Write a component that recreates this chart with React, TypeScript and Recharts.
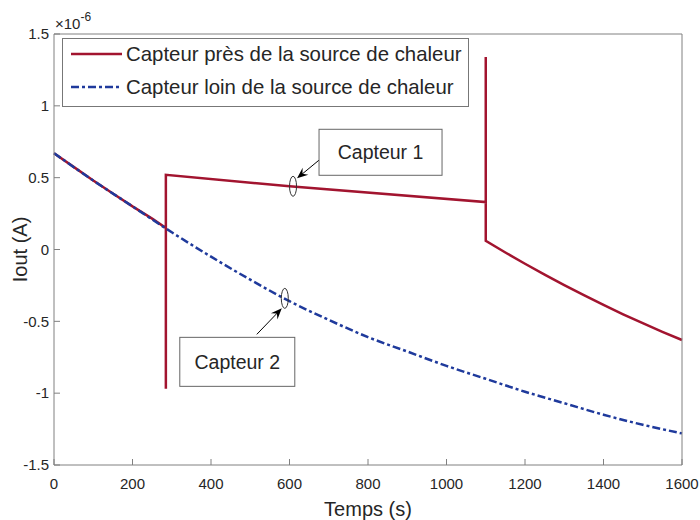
import React from 'react';
import { LineChart, Line, XAxis, YAxis, ReferenceDot, Legend } from 'recharts';

// courant en µA (l'axe porte le facteur ×10^-6)
const timeFar = [0, 100, 200, 300, 400, 500, 600, 700, 800, 900, 1000, 1100, 1200, 1300, 1400, 1500, 1600];
const currentFar = [0.67, 0.48, 0.3, 0.12, -0.05, -0.21, -0.36, -0.49, -0.61, -0.71, -0.81, -0.9, -0.99, -1.07, -1.15, -1.22, -1.28];

const timeNear = [
  0, 50, 100, 150, 200, 250, 285, 285, 285, 600, 1100, 1100, 1100,
  1150, 1200, 1250, 1300, 1350, 1400, 1450, 1500, 1550, 1600,
];
const currentNear = [
  0.67, 0.575, 0.48, 0.39, 0.3, 0.215, 0.15, -0.97, 0.52, 0.44, 0.33, 1.34, 0.06,
  -0.021, -0.099, -0.175, -0.248, -0.318, -0.386, -0.451, -0.513, -0.573, -0.63,
];

const xTicks = [0, 200, 400, 600, 800, 1000, 1200, 1400, 1600];
const yTicks = [-1.5, -1, -0.5, 0, 0.5, 1, 1.5];

const seriesNames = ['Capteur près de la source de chaleur', 'Capteur loin de la source de chaleur'];
const seriesColors = ['#A2142F', '#1F3A9C'];

const calloutLabels = ['Capteur 1', 'Capteur 2'];
const calloutTimes = [609, 588];
const calloutValues = [0.44, -0.34];

const FONT = '"Liberation Sans", Arial, Helvetica, sans-serif';
const AXIS = '#808080';
const TEXT = '#262626';
const DASH = '8 3 3 3';

const nearData = timeNear.map((t, i) => ({ t, v: currentNear[i] }));
const farData = timeFar.map((t, i) => ({ t, v: currentFar[i] }));

// placement of each callout relative to its ellipse
const calloutLayout = [
  { tail: [27, -27], head: [4, -8], box: [26, -57, 123, 46] },
  { tail: [-28, 36], head: [-3, 10], box: [-105, 39, 115, 49] },
];

const Arrow = ({ x1, y1, x2, y2 }: { x1: number; y1: number; x2: number; y2: number }) => {
  const dx = x2 - x1;
  const dy = y2 - y1;
  const len = Math.sqrt(dx * dx + dy * dy);
  const ux = dx / len;
  const uy = dy / len;
  const bx = x2 - ux * 11;
  const by = y2 - uy * 11;
  const pts = `${x2},${y2} ${bx - uy * 4.5},${by + ux * 4.5} ${x2 - ux * 7},${y2 - uy * 7} ${bx + uy * 4.5},${by - ux * 4.5}`;
  return (
    <g>
      <line x1={x1} y1={y1} x2={x2 - ux * 6} y2={y2 - uy * 6} stroke="#000" strokeWidth={1} />
      <polygon points={pts} fill="#000" />
    </g>
  );
};

const makeCallout = (idx: number) => (props: any) => {
  const { cx, cy } = props;
  const lay = calloutLayout[idx];
  const [bx, by, bw, bh] = lay.box;
  return (
    <g>
      <ellipse cx={cx} cy={cy} rx={3.5} ry={10} fill="none" stroke="#333" strokeWidth={1} />
      <Arrow x1={cx + lay.tail[0]} y1={cy + lay.tail[1]} x2={cx + lay.head[0]} y2={cy + lay.head[1]} />
      <rect x={cx + bx} y={cy + by} width={bw} height={bh} fill="#fff" stroke="#666" strokeWidth={1} />
      <text
        x={cx + bx + bw / 2}
        y={cy + by + bh / 2}
        textAnchor="middle"
        dominantBaseline="central"
        fontSize={19.5}
        fontFamily={FONT}
        fill={TEXT}
      >
        {calloutLabels[idx]}
      </text>
    </g>
  );
};

const LegendBox = () => (
  <svg width={408} height={70} style={{ display: 'block' }}>
    <rect x={0.5} y={0.5} width={406} height={68} fill="#fff" stroke="#777" strokeWidth={1} />
    {seriesNames.map((name, i) => {
      const y = 16 + i * 33;
      return (
        <g key={name}>
          <line
            x1={9}
            x2={60}
            y1={y}
            y2={y}
            stroke={seriesColors[i]}
            strokeWidth={2.5}
            strokeDasharray={i === 1 ? DASH : undefined}
          />
          <text x={64} y={y} dominantBaseline="central" fontSize={20.4} fontFamily={FONT} fill={TEXT}>
            {name}
          </text>
        </g>
      );
    })}
  </svg>
);

export default function App() {
  return (
    <div style={{ position: 'absolute', left: 0, top: 0, width: 700, height: 520, background: '#fff' }}>
      <LineChart width={700} height={520} margin={{ top: 33, right: 10, bottom: 0, left: 10 }}>
        <XAxis
          xAxisId="b"
          dataKey="t"
          type="number"
          domain={[0, 1600]}
          ticks={xTicks}
          interval={0}
          height={55}
          tickSize={-6}
          tickMargin={19}
          axisLine={{ stroke: AXIS }}
          tickLine={{ stroke: AXIS }}
          tick={{ fill: TEXT, fontSize: 15, fontFamily: FONT }}
          label={{ value: 'Temps (s)', position: 'insideBottom', offset: 4, fill: TEXT, fontSize: 20, fontFamily: FONT }}
        />
        <XAxis
          xAxisId="t"
          orientation="top"
          dataKey="t"
          type="number"
          domain={[0, 1600]}
          ticks={xTicks}
          interval={0}
          height={1}
          tickSize={-6}
          tick={false}
          axisLine={{ stroke: AXIS }}
          tickLine={{ stroke: AXIS }}
        />
        <YAxis
          yAxisId="l"
          type="number"
          domain={[-1.5, 1.5]}
          ticks={yTicks}
          interval={0}
          width={44}
          tickSize={-6}
          tickMargin={11}
          axisLine={{ stroke: AXIS }}
          tickLine={{ stroke: AXIS }}
          tick={{ fill: TEXT, fontSize: 15, fontFamily: FONT }}
          label={{
            value: 'Iout (A)',
            angle: -90,
            position: 'insideLeft',
            offset: 10,
            fill: TEXT,
            fontSize: 20,
            fontFamily: FONT,
            style: { textAnchor: 'middle' },
          }}
        />
        <YAxis
          yAxisId="r"
          orientation="right"
          type="number"
          domain={[-1.5, 1.5]}
          ticks={yTicks}
          interval={0}
          width={8}
          tickSize={-6}
          tick={false}
          axisLine={{ stroke: AXIS }}
          tickLine={{ stroke: AXIS }}
        />
        <Legend
          layout="horizontal"
          verticalAlign="middle"
          align="center"
          wrapperStyle={{ left: 62, top: 38, width: 408, height: 70 }}
          content={() => <LegendBox />}
        />
        <Line
          xAxisId="b"
          yAxisId="l"
          data={nearData}
          dataKey="v"
          name={seriesNames[0]}
          type="linear"
          stroke={seriesColors[0]}
          strokeWidth={2.5}
          dot={false}
          activeDot={false}
          isAnimationActive={false}
        />
        <Line
          xAxisId="b"
          yAxisId="l"
          data={farData}
          dataKey="v"
          name={seriesNames[1]}
          type="monotone"
          stroke={seriesColors[1]}
          strokeWidth={2.5}
          strokeDasharray={DASH}
          dot={false}
          activeDot={false}
          isAnimationActive={false}
        />
        {calloutLabels.map((lbl, i) => (
          <ReferenceDot
            key={lbl}
            xAxisId="b"
            yAxisId="l"
            x={calloutTimes[i]}
            y={calloutValues[i]}
            ifOverflow="visible"
            shape={makeCallout(i)}
          />
        ))}
      </LineChart>
      <svg width={120} height={34} style={{ position: 'absolute', left: 0, top: 0 }}>
        <text x={55} y={29} fontSize={15} fontFamily={FONT} fill={TEXT}>
          ×10
          <tspan dy={-8} fontSize={12}>
            -6
          </tspan>
        </text>
      </svg>
    </div>
  );
}
